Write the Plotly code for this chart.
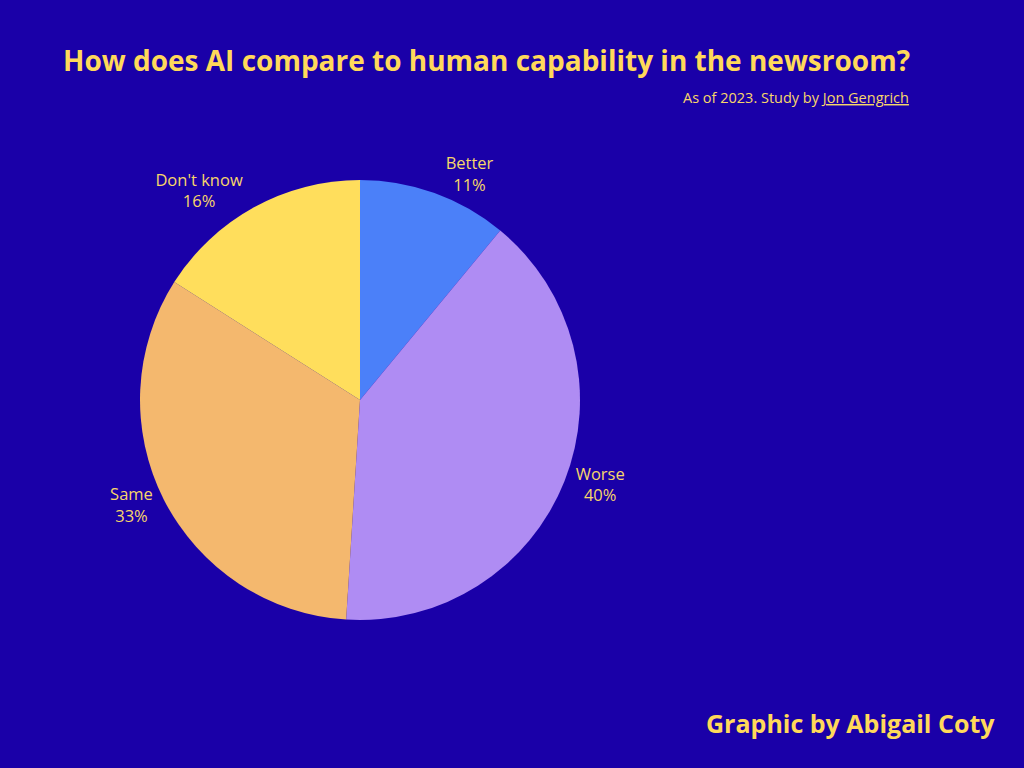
import plotly.graph_objects as go

answers = ["Better", "Worse", "Same", "Don't know"]
shares = [11, 40, 33, 16]
slice_colors = ["#4B80F9", "#AF8CF3", "#F4B86E", "#FFDE5C"]

bg = "#1A00A8"
yellow = "#FFD95A"
font = "Open Sans"

fig = go.Figure(go.Pie(
    labels=answers,
    values=shares,
    sort=False,
    direction="clockwise",
    rotation=0,
    marker=dict(colors=slice_colors, line=dict(width=0)),
    texttemplate="%{label}<br>%{percent:.0%}",
    textposition="outside",
    outsidetextfont=dict(family=font, size=16.5, color="#F7D66A"),
    domain=dict(x=[140 / 1024, 580 / 1024], y=[1 - 620 / 768, 1 - 180 / 768]),
    showlegend=False,
    hoverinfo="label+percent",
))

fig.update_layout(
    width=1024,
    height=768,
    paper_bgcolor=bg,
    plot_bgcolor=bg,
    margin=dict(l=0, r=0, t=0, b=0),
    annotations=[
        dict(text="<b>How does AI compare to human capability in the newsroom?</b>",
             x=61 / 1024, y=1 - 60 / 768, xref="paper", yref="paper",
             xanchor="left", yanchor="middle", showarrow=False,
             font=dict(family=font, size=28, color=yellow)),
        dict(text="As of 2023. Study by <span style='text-decoration:underline'>Jon Gengrich</span>",
             x=911 / 1024, y=1 - 98 / 768, xref="paper", yref="paper",
             xanchor="right", yanchor="middle", showarrow=False,
             font=dict(family=font, size=14.5, color="#F7D66A")),
        dict(text="<b>Graphic by Abigail Coty</b>",
             x=997 / 1024, y=1 - 723 / 768, xref="paper", yref="paper",
             xanchor="right", yanchor="middle", showarrow=False,
             font=dict(family=font, size=25, color=yellow)),
    ],
)

fig.write_html("out.html",
               config={"displayModeBar": False},
               post_script="document.body.style.margin='0';document.body.style.background='%s';" % bg)
